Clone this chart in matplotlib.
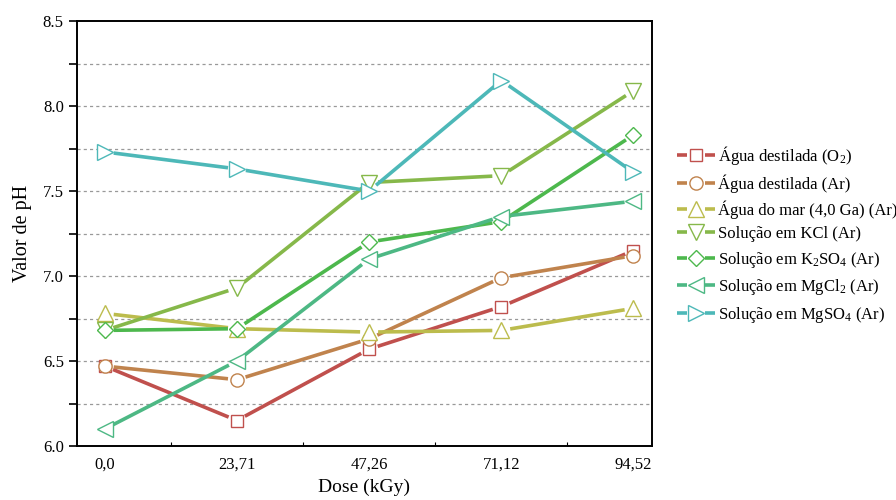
import numpy as np
import matplotlib
matplotlib.use("Agg")
import matplotlib.pyplot as plt
from matplotlib.lines import Line2D
from matplotlib.legend_handler import HandlerBase
from matplotlib.ticker import MultipleLocator, FixedLocator, FormatStrFormatter

plt.rcParams['font.family'] = ['Liberation Serif', 'DejaVu Serif']
plt.rcParams['mathtext.default'] = 'regular'

doses = ['0,0', '23,71', '47,26', '71,12', '94,52']

agua_o2 = [6.47, 6.15, 6.57, 6.82, 7.15]
agua_ar = [6.47, 6.39, 6.63, 6.99, 7.12]
agua_mar = [6.78, 6.69, 6.67, 6.68, 6.81]
sol_kcl = [6.68, 6.93, 7.55, 7.59, 8.09]
sol_k2so4 = [6.68, 6.69, 7.20, 7.32, 7.83]
sol_mgcl2 = [6.10, 6.50, 7.10, 7.35, 7.44]
sol_mgso4 = [7.73, 7.63, 7.50, 8.15, 7.61]

series = [
    ('Água destilada (O$_2$)', agua_o2, 's', '#c0504d'),
    ('Água destilada (Ar)', agua_ar, 'o', '#c0834d'),
    ('Água do mar (4,0 Ga) (Ar)', agua_mar, '^', '#bcbc4d'),
    ('Solução em KCl (Ar)', sol_kcl, 'v', '#86b84a'),
    ('Solução em K$_2$SO$_4$ (Ar)', sol_k2so4, 'D', '#4db84d'),
    ('Solução em MgCl$_2$ (Ar)', sol_mgcl2, '<', '#4db884'),
    ('Solução em MgSO$_4$ (Ar)', sol_mgso4, '>', '#4db8b8'),
]
msizes = {'s': 9, 'o': 9.5, '^': 11, 'v': 11, 'D': 8.5, '<': 11, '>': 11}

GAP = 9.0  # pixels between line end and marker centre
LW = 2.6


class GapHandler(HandlerBase):
    # line - marker - line, with a gap round the marker (Origin style)
    def create_artists(self, legend, orig_handle, xdescent, ydescent,
                       width, height, fontsize, trans):
        y = (height - ydescent) / 2
        x0, x1 = -xdescent, -xdescent + width
        xm = (x0 + x1) / 2
        g = 6.5
        col = orig_handle.get_color()
        ln = Line2D([x0, xm - g, np.nan, xm + g, x1], [y] * 5, color=col,
                    lw=LW, solid_capstyle='butt')
        mk = Line2D([xm], [y], linestyle='none',
                    marker=orig_handle.get_marker(),
                    markersize=orig_handle.get_markersize(),
                    markerfacecolor='white', markeredgecolor=col,
                    markeredgewidth=1.0)
        ln.set_transform(trans)
        mk.set_transform(trans)
        return [ln, mk]


fig = plt.figure(figsize=(8.96, 5.0), dpi=100)
ax = fig.add_axes([77 / 896, 54 / 500, 575 / 896, 425 / 500])

x = np.arange(len(doses))
ax.set_xlim(-0.21, 4.14)
ax.set_ylim(6.0, 8.5)

fig.canvas.draw()
tr = ax.transData
inv = tr.inverted()
handles = []
for label, vals, mk, col in series:
    pts = tr.transform(np.column_stack([x, vals]))
    for i in range(len(pts) - 1):
        p, q = pts[i], pts[i + 1]
        d = q - p
        u = d / np.hypot(*d)
        a = inv.transform(p + u * GAP)
        b = inv.transform(q - u * GAP)
        ax.plot([a[0], b[0]], [a[1], b[1]], color=col, lw=LW,
                solid_capstyle='butt', zorder=2)
    h, = ax.plot(x, vals, linestyle='none', marker=mk, markersize=msizes[mk],
                 markerfacecolor='white', markeredgecolor=col, color=col,
                 markeredgewidth=1.0, zorder=3, label=label)
    handles.append(h)

# dotted grid at every 0.25
for yv in np.arange(6.25, 8.5, 0.25):
    ax.axhline(yv, color='#999999', lw=0.9, linestyle=(0, (2.5, 2.5)), zorder=1)

ax.set_xticks(x)
ax.set_xticklabels(doses)
ax.xaxis.set_minor_locator(FixedLocator(np.arange(-0.5, 4.6, 0.5)))
ax.tick_params(axis='x', which='major', length=0, pad=8, labelsize=12)
ax.tick_params(axis='x', which='minor', length=3, direction='in', width=0.8)

ax.yaxis.set_major_locator(MultipleLocator(0.5))
ax.yaxis.set_minor_locator(MultipleLocator(0.25))
ax.yaxis.set_major_formatter(FormatStrFormatter('%.1f'))
ax.tick_params(axis='y', which='both', length=6, width=1.2, direction='out',
               labelsize=12)

for s in ax.spines.values():
    s.set_linewidth(1.4)

ax.set_xlabel('Dose (kGy)', fontsize=14, labelpad=4)
ax.set_ylabel('Valor de pH', fontsize=14.5, labelpad=8)

fig.legend(handles=handles, loc='upper left',
           bbox_to_anchor=(670 / 896, 1 - 137 / 500),
           frameon=False, fontsize=12, handlelength=2.3,
           handletextpad=0.15, labelspacing=0.45, borderaxespad=0,
           handler_map={Line2D: GapHandler()})

fig.savefig('out.png', dpi=100)
